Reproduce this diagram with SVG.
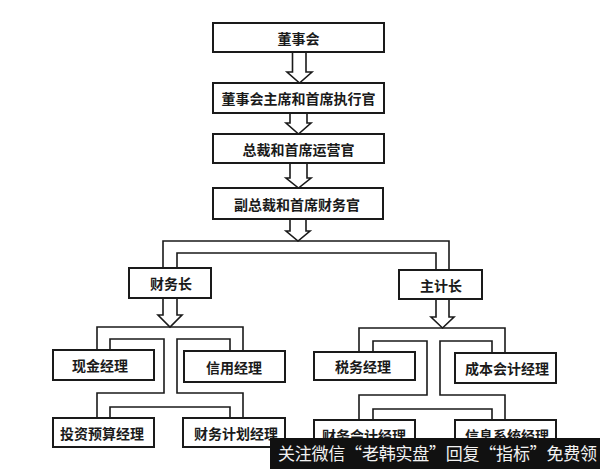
<svg xmlns="http://www.w3.org/2000/svg" width="600" height="469" viewBox="0 0 600 469">
<style>
.box{fill:#fff;stroke:#1a1a1a;stroke-width:2}
.t{font-family:"Noto Sans CJK SC","Noto Sans CJK TC",sans-serif;font-size:14px;font-weight:bold;fill:#1a1a1a;text-anchor:middle;dominant-baseline:central}
.ln{fill:none;stroke:#1a1a1a;stroke-width:1.6;stroke-linejoin:miter}
.ar{fill:#fff;stroke:#1a1a1a;stroke-width:1.6;stroke-linejoin:miter}
.wm{font-family:"Noto Sans CJK SC",sans-serif;font-size:17px;fill:#f2f2f2}
</style>
<rect width="600" height="469" fill="#fff"/>
<g id="connectors">
<path class="ar" d="M292.5 52 V72 H287 L299.5 83 L312 72 H306 V52"/>
<path class="ar" d="M290 113 V123 H286 L298.5 134 L311 123 H307 V113"/>
<path class="ar" d="M290 163 V178 H286 L298.5 188 L311 178 H307 V163"/>
<path class="ar" d="M290 219 V231 H286 L298 241 L310 231 H306 V219"/>
<path class="ln" d="M163 268 V241 H449 V270"/>
<path class="ln" d="M177 268 V253 H436 V270"/>
<path class="ar" d="M163 298 V315 H158 L170 327 L182 315 H177 V298"/>
<path class="ar" d="M436 299 V317 H431 L442.5 328 L454 317 H449 V299"/>
<path class="ln" d="M97 350 V327 H243 V351"/>
<path class="ln" d="M110 350 V339 H164 V393 H97 V418"/>
<path class="ln" d="M230 351 V339 H177 V393 H243 V418"/>
<path class="ln" d="M110 418 V407 H230 V418"/>
<path class="ln" d="M359 352 V328 H505 V353"/>
<path class="ln" d="M373 352 V341 H427 V395 H359 V420"/>
<path class="ln" d="M492 353 V341 H440 V395 H505 V420"/>
<path class="ln" d="M373 420 V409 H492 V420"/>
</g>
<g id="n1"><rect class="box" x="213" y="23" width="171" height="29"/><text class="t" x="298.5" y="37.5">董事会</text></g>
<g id="n2"><rect class="box" x="213" y="83" width="171" height="30"/><text class="t" x="298.5" y="98">董事会主席和首席执行官</text></g>
<g id="n3"><rect class="box" x="213" y="134" width="171" height="29"/><text class="t" x="298.5" y="148.5">总裁和首席运营官</text></g>
<g id="n4"><rect class="box" x="213" y="188" width="170" height="31"/><text class="t" x="297" y="203.5">副总裁和首席财务官</text></g>
<g id="n5"><rect class="box" x="129" y="268" width="82" height="30"/><text class="t" x="171" y="283">财务长</text></g>
<g id="n6"><rect class="box" x="399" y="270" width="83" height="29"/><text class="t" x="441" y="284.5">主计长</text></g>
<g id="n7"><rect class="box" x="53" y="350" width="101" height="30"/><text class="t" x="100" y="365">现金经理</text></g>
<g id="n8"><rect class="box" x="184" y="351" width="101" height="31"/><text class="t" x="234" y="366.5">信用经理</text></g>
<g id="n9"><rect class="box" x="53" y="418" width="101" height="29"/><text class="t" x="102" y="432.5">投资预算经理</text></g>
<g id="n10"><rect class="box" x="183" y="418" width="102" height="29"/><text class="t" x="236" y="432.5">财务计划经理</text></g>
<g id="n11"><rect class="box" x="314" y="352" width="101" height="28"/><text class="t" x="363" y="366">税务经理</text></g>
<g id="n12"><rect class="box" x="455" y="353" width="101" height="30"/><text class="t" x="507" y="368">成本会计经理</text></g>
<g id="n13"><rect class="box" x="314" y="420" width="101" height="30"/><text class="t" x="364" y="435">财务会计经理</text></g>
<g id="n14"><rect class="box" x="455" y="420" width="101" height="30"/><text class="t" x="507" y="435">信息系统经理</text></g>
<g id="watermark">
<rect x="270" y="438" width="330" height="31" fill="#111"/>
<text class="wm" x="278" y="460" textLength="319" lengthAdjust="spacing">关注微信“老韩实盘”回复“指标”免费领</text>
</g>
</svg>
